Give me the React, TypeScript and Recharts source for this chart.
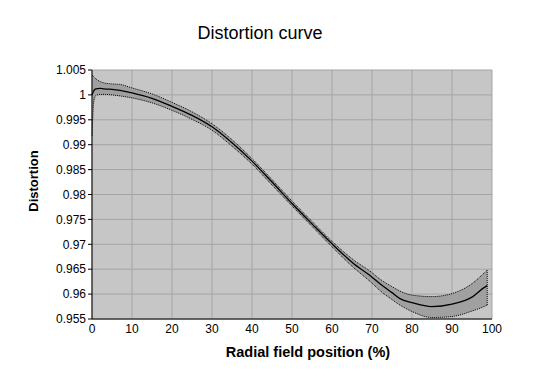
import React from "react";
import {
  ComposedChart,
  Area,
  Line,
  XAxis,
  YAxis,
  CartesianGrid,
  ReferenceLine,
  Label,
} from "recharts";

const positions = [0, 0.5, 1, 2, 3, 5, 7, 10, 15, 20, 25, 30, 35, 40, 45, 50, 55, 60, 65, 70, 72, 75, 77, 80, 85, 90, 95, 98, 98.8];
const distortion = [1.0, 1.0009, 1.0012, 1.0013, 1.0012, 1.0011, 1.0009, 1.0004, 0.9993, 0.9977, 0.9959, 0.9936, 0.9904, 0.9867, 0.9825, 0.9782, 0.9741, 0.9701, 0.9664, 0.9634, 0.9621, 0.9603, 0.9591, 0.9583, 0.9575, 0.958, 0.9594, 0.9613, 0.9617];
const upperBound = [1.004, 1.0036, 1.0032, 1.0027, 1.0024, 1.0022, 1.0021, 1.0014, 1.0002, 0.9985, 0.9966, 0.9942, 0.991, 0.9872, 0.983, 0.9787, 0.9746, 0.9706, 0.9671, 0.9643, 0.963, 0.9615, 0.9606, 0.9598, 0.9595, 0.9601, 0.9621, 0.9642, 0.9648];
const lowerBound = [0.9918, 0.999, 0.9999, 1.0001, 1.0001, 1.0, 0.9998, 0.9994, 0.9984, 0.9969, 0.9951, 0.9929, 0.9897, 0.9861, 0.9819, 0.9777, 0.9736, 0.9695, 0.9656, 0.9622, 0.9607, 0.9589, 0.9578, 0.9565, 0.9553, 0.9555, 0.9566, 0.9575, 0.9578];

const xTicks = [0, 10, 20, 30, 40, 50, 60, 70, 80, 90, 100];
const yTicks = [0.955, 0.96, 0.965, 0.97, 0.975, 0.98, 0.985, 0.99, 0.995, 1, 1.005];

const data = positions.map((x, i) => ({
  x,
  center: distortion[i],
  upper: upperBound[i],
  lower: lowerBound[i],
  band: [lowerBound[i], upperBound[i]],
}));

const lastIdx = positions.length - 1;
const FONT = "'Liberation Sans', Arial, sans-serif";

export default function App() {
  return (
    <div style={{ position: "absolute", left: 0, top: 0, width: 544, height: 378, background: "#fff", fontFamily: FONT }}>
      <div style={{ position: "absolute", left: 0, width: 520, top: 23, textAlign: "center", fontSize: 18, color: "#000" }}>
        Distortion curve
      </div>
      <div
        style={{
          position: "absolute",
          left: 33,
          top: 181,
          transform: "translate(-50%, -50%) rotate(-90deg)",
          fontSize: 13,
          fontWeight: "bold",
          whiteSpace: "nowrap",
          color: "#000",
        }}
      >
        Distortion
      </div>
      <ComposedChart
        width={544}
        height={378}
        data={data}
        margin={{ top: 70, right: 52, bottom: 19, left: 0 }}
        style={{ position: "absolute", left: 0, top: 0 }}
      >
        <CartesianGrid stroke="#A4A4A4" fill="#C6C6C6" fillOpacity={1} />
        <XAxis
          dataKey="x"
          type="number"
          domain={[0, 100]}
          ticks={xTicks}
          interval={0}
          height={40}
          tickLine={false}
          tickSize={3}
          tickMargin={2}
          axisLine={{ stroke: "#000" }}
          tick={{ fill: "#000", fontSize: 12, fontFamily: FONT }}
        >
          <Label
            value="Radial field position (%)"
            position="insideBottom"
            offset={2}
            dx={16}
            style={{ fontSize: 14.5, fontWeight: "bold", fill: "#000", fontFamily: FONT }}
          />
        </XAxis>
        <YAxis
          type="number"
          domain={[0.955, 1.005]}
          ticks={yTicks}
          interval={0}
          width={92}
          tickSize={4}
          tickMargin={2}
          allowDataOverflow
          axisLine={{ stroke: "#000" }}
          tickLine={{ stroke: "#000" }}
          tickFormatter={(v: number) => String(Number(v.toFixed(3)))}
          tick={{ fill: "#000", fontSize: 12, fontFamily: FONT }}
        />
        <Area
          dataKey="band"
          type="monotone"
          stroke="none"
          fill="#A0A0A0"
          fillOpacity={1}
          isAnimationActive={false}
        />
        <Line dataKey="upper" type="monotone" stroke="#000" strokeWidth={1} strokeDasharray="1 1" dot={false} isAnimationActive={false} />
        <Line dataKey="lower" type="monotone" stroke="#000" strokeWidth={1} strokeDasharray="1 1" dot={false} isAnimationActive={false} />
        <ReferenceLine
          segment={[
            { x: positions[lastIdx], y: lowerBound[lastIdx] },
            { x: positions[lastIdx], y: upperBound[lastIdx] },
          ]}
          stroke="#000"
          strokeDasharray="1 1"
        />
        <Line dataKey="center" type="monotone" stroke="#000" strokeWidth={1.3} dot={false} isAnimationActive={false} />
      </ComposedChart>
    </div>
  );
}
